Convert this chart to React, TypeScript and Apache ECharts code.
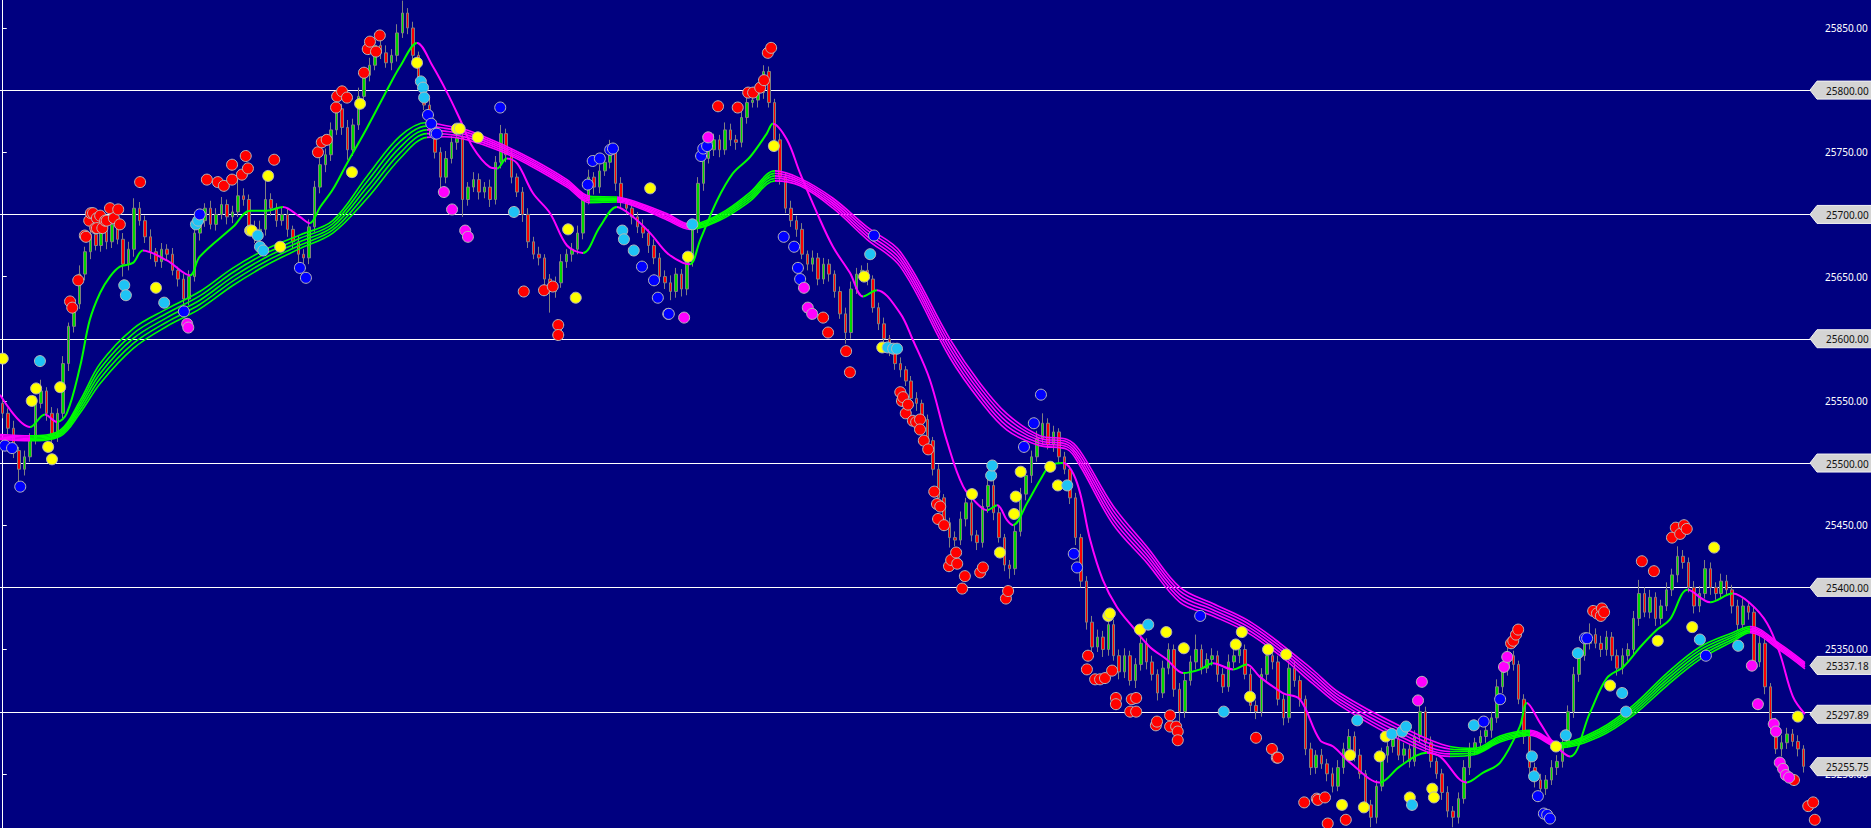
import React, { useEffect, useRef } from "react";
import * as echarts from "echarts";

const W = 1871;
const H = 828;
const Y_MIN = 25206.4;
const Y_MAX = 25872.5;
const N_SLOTS = 332;
const X_MIN = -0.5;
const X_MAX = N_SLOTS - 0.5;

const BG = "#000080";
const GREEN = "#00ff00";
const MAGENTA = "#ff00ff";

// ---- price bars (close, wick sizes) ----
const firstOpen = 25548;
const closes = [
  25540, 25528, 25510, 25495, 25505, 25520, 25548, 25558, 25540, 25522,
  25540, 25580, 25610, 25628, 25652, 25670, 25684, 25675, 25688, 25678,
  25692, 25680, 25660, 25672, 25705, 25695, 25682, 25670, 25662, 25672,
  25668, 25655, 25648, 25632, 25650, 25685, 25695, 25705, 25692, 25700,
  25708, 25698, 25702, 25715, 25712, 25690, 25682, 25688, 25712, 25705,
  25695, 25700, 25688, 25678, 25668, 25665, 25690, 25722, 25740, 25748,
  25768, 25785, 25770, 25752, 25772, 25795, 25812, 25820, 25836, 25830,
  25822, 25828, 25846, 25862, 25850, 25828, 25805, 25788, 25772, 25750,
  25730, 25745, 25758, 25762, 25712, 25722, 25728, 25718, 25722, 25712,
  25742, 25765, 25748, 25730, 25718, 25700, 25678, 25668, 25665, 25648,
  25638, 25645, 25662, 25668, 25672, 25685, 25712, 25730, 25722, 25735,
  25742, 25752, 25725, 25710, 25705, 25698, 25690, 25685, 25675, 25665,
  25650, 25645, 25638, 25652, 25640, 25662, 25690, 25725, 25745, 25752,
  25760, 25752, 25768, 25760, 25758, 25778, 25790, 25792, 25798, 25815,
  25790, 25760, 25730, 25705, 25695, 25688, 25668, 25660, 25665, 25648,
  25660, 25652, 25638, 25620, 25605, 25640, 25652, 25655, 25648, 25625,
  25612, 25600, 25590, 25580, 25575, 25566, 25552, 25548, 25535, 25518,
  25495, 25472, 25452, 25440, 25438, 25455, 25468, 25442, 25436, 25465,
  25482, 25460, 25440, 25418, 25415, 25445, 25475, 25490, 25505, 25520,
  25532, 25515, 25525, 25505, 25495, 25472, 25440, 25405, 25372, 25352,
  25360, 25350, 25370, 25345, 25332, 25345, 25325, 25338, 25355, 25340,
  25330, 25315, 25335, 25350, 25318, 25300, 25325, 25340, 25350, 25335,
  25342, 25345, 25330, 25320, 25340, 25345, 25350, 25330, 25305, 25300,
  25330, 25345, 25340, 25310, 25295, 25335, 25325, 25310, 25270, 25255,
  25265, 25258, 25250, 25240, 25255, 25270, 25280, 25265, 25250, 25225,
  25215, 25240, 25265, 25272, 25278, 25265, 25270, 25260, 25280, 25300,
  25275, 25260, 25250, 25235, 25220, 25215, 25230, 25255, 25270, 25275,
  25280, 25285, 25295, 25320, 25335, 25345, 25338, 25310, 25280, 25255,
  25245, 25238, 25245, 25255, 25260, 25275, 25300, 25330, 25345, 25355,
  25362, 25355, 25350, 25360, 25345, 25335, 25345, 25350, 25375, 25395,
  25380, 25392, 25375, 25385, 25398, 25410, 25425, 25420, 25400, 25385,
  25395, 25415, 25400, 25395, 25405, 25398, 25385, 25370, 25385, 25380,
  25340, 25355, 25320, 25290, 25270, 25275, 25282, 25276, 25270, 25256,
];
const wickUp = [
  5, 4, 6, 3, 5, 4, 6, 9, 3, 5, 4, 6, 3, 5, 7, 4, 5, 6, 4, 5,
  6, 4, 5, 6, 8, 5, 4, 6, 3, 5, 4, 5, 3, 4, 5, 6, 5, 4, 6, 5,
  6, 4, 5, 15, 6, 4, 5, 7, 18, 5, 4, 6, 5, 3, 5, 4, 6, 5, 7, 5,
  6, 5, 4, 6, 5, 7, 5, 6, 5, 4, 6, 5, 7, 10, 4, 5, 3, 4, 5, 3,
  4, 6, 5, 8, 5, 4, 6, 5, 4, 6, 5, 7, 4, 5, 3, 4, 5, 4, 6, 3,
  4, 5, 6, 4, 5, 6, 5, 6, 4, 5, 6, 8, 4, 5, 3, 5, 4, 6, 3, 5,
  4, 5, 6, 5, 4, 5, 6, 5, 6, 4, 5, 4, 6, 5, 4, 6, 5, 4, 5, 5,
  4, 3, 5, 4, 6, 4, 5, 3, 6, 4, 5, 4, 3, 4, 5, 6, 5, 4, 6, 3,
  4, 5, 3, 4, 5, 3, 4, 5, 3, 4, 3, 4, 3, 4, 5, 6, 4, 5, 4, 6,
  8, 4, 5, 3, 4, 6, 5, 6, 5, 6, 8, 4, 5, 3, 4, 3, 4, 3, 4, 5,
  6, 5, 7, 4, 5, 6, 4, 5, 6, 4, 5, 4, 6, 5, 4, 5, 6, 5, 12, 4,
  5, 6, 4, 5, 6, 5, 6, 4, 5, 4, 5, 6, 4, 5, 4, 6, 5, 4, 3, 5,
  4, 5, 4, 5, 6, 5, 6, 4, 5, 3, 4, 5, 6, 5, 6, 4, 5, 4, 5, 6,
  4, 5, 3, 4, 5, 4, 5, 6, 5, 4, 5, 6, 5, 6, 5, 7, 4, 3, 4, 5,
  4, 5, 4, 6, 5, 6, 5, 6, 5, 6, 9, 5, 6, 5, 4, 5, 6, 5, 6, 11,
  5, 6, 4, 5, 6, 5, 8, 5, 4, 5, 6, 7, 5, 4, 6, 5, 4, 5, 6, 4,
  5, 6, 4, 3, 5, 6, 5, 4, 5, 3,
];
const wickDown = [
  4, 5, 6, 10, 5, 4, 5, 4, 6, 5, 5, 4, 6, 5, 4, 5, 6, 4, 5, 6,
  5, 4, 10, 5, 6, 4, 5, 6, 4, 5, 5, 4, 6, 7, 5, 4, 6, 5, 4, 5,
  4, 6, 5, 4, 5, 6, 5, 4, 5, 6, 5, 4, 6, 5, 8, 6, 5, 4, 5, 6,
  5, 4, 6, 8, 5, 4, 6, 5, 4, 5, 4, 6, 5, 4, 5, 6, 5, 4, 6, 5,
  10, 5, 4, 6, 14, 5, 4, 6, 5, 6, 4, 5, 6, 5, 4, 6, 5, 4, 6, 5,
  17, 5, 4, 5, 6, 4, 5, 4, 6, 5, 4, 5, 6, 4, 5, 6, 5, 4, 6, 5,
  4, 5, 7, 5, 6, 5, 4, 5, 6, 4, 5, 6, 4, 5, 6, 4, 5, 4, 6, 5,
  4, 5, 6, 4, 5, 6, 4, 5, 6, 5, 4, 6, 5, 4, 9, 5, 4, 6, 5, 4,
  5, 6, 4, 5, 6, 4, 5, 6, 5, 4, 5, 4, 6, 8, 5, 4, 6, 5, 6, 4,
  5, 6, 4, 5, 8, 5, 4, 5, 6, 4, 5, 4, 6, 5, 4, 5, 6, 5, 6, 5,
  4, 6, 5, 4, 6, 5, 4, 6, 5, 6, 5, 6, 4, 5, 6, 10, 5, 4, 6, 5,
  4, 5, 6, 5, 4, 5, 6, 4, 5, 6, 4, 5, 6, 5, 6, 4, 5, 6, 5, 6,
  5, 4, 6, 5, 4, 5, 6, 5, 4, 6, 8, 5, 4, 6, 5, 4, 6, 5, 4, 5,
  6, 5, 4, 6, 5, 8, 5, 4, 6, 5, 4, 5, 6, 4, 5, 6, 5, 4, 6, 5,
  6, 9, 5, 4, 6, 5, 4, 5, 6, 4, 5, 4, 6, 5, 4, 6, 5, 4, 5, 6,
  4, 5, 6, 5, 4, 5, 6, 5, 4, 6, 5, 4, 6, 5, 4, 5, 6, 5, 4, 6,
  5, 4, 6, 5, 4, 6, 5, 4, 6, 5,
];

// ---- fast average line [bar position, price] ----
const fastLine: [number, number][] = [
  [-0.5, 25555], [5.0, 25529], [7.7, 25539], [9.9, 25533], [11.7, 25540], [14.1, 25577],
  [15.9, 25615], [17.8, 25637], [19.6, 25650], [21.4, 25658], [23.8, 25661], [25.6, 25671],
  [30.0, 25663], [34.2, 25651], [36.0, 25666], [42.1, 25690], [45.2, 25703], [48.3, 25703],
  [51.2, 25706], [54.3, 25698], [56.1, 25693], [58.0, 25706], [60.3, 25720], [62.9, 25741],
  [66.6, 25770], [70.8, 25805], [72.6, 25819], [75.7, 25838], [78.6, 25819], [81.2, 25798],
  [83.5, 25777], [85.9, 25754], [89.0, 25738], [90.3, 25737], [92.1, 25745], [94.0, 25741],
  [96.9, 25717], [100.0, 25701], [103.1, 25675], [106.0, 25669], [109.1, 25690], [112.2, 25706],
  [115.2, 25698], [118.3, 25685], [121.4, 25669], [124.3, 25661], [125.6, 25660], [127.4, 25679],
  [130.5, 25711], [133.4, 25733], [136.5, 25746], [139.6, 25765], [140.7, 25773], [143.3, 25760],
  [145.7, 25733], [148.8, 25701], [151.7, 25674], [154.8, 25653], [157.2, 25634], [159.7, 25639],
  [163.9, 25621], [166.3, 25599], [169.4, 25567], [172.5, 25518], [175.5, 25481], [178.6, 25465],
  [179.8, 25462], [181.7, 25466], [183.5, 25454], [184.6, 25450], [187.2, 25468], [189.5, 25486],
  [191.4, 25498], [193.7, 25500], [196.3, 25484], [198.7, 25438], [201.0, 25406], [203.6, 25384],
  [206.5, 25368], [209.6, 25352], [212.7, 25342], [215.7, 25331], [218.8, 25334], [221.1, 25339],
  [224.8, 25334], [227.3, 25338], [229.7, 25328], [233.9, 25315], [237.0, 25310], [240.7, 25277],
  [243.1, 25272], [246.2, 25259], [251.6, 25243], [255.3, 25256], [260.2, 25267], [262.6, 25264],
  [267.5, 25243], [270.5, 25251], [273.6, 25259], [277.2, 25288], [278.5, 25307], [280.9, 25291],
  [283.3, 25275], [286.4, 25264], [290.0, 25299], [293.1, 25327], [296.1, 25336], [299.2, 25352],
  [302.3, 25366], [304.6, 25374], [307.9, 25398], [312.0, 25388], [316.1, 25395], [319.3, 25387],
  [322.4, 25371], [324.7, 25347], [327.1, 25312], [329.3, 25298],
];

// ---- slow ribbon: centre [bar position, price] and total spread in points ----
const ribbonMid: [number, number][] = [
  [-0.5, 25521], [5.0, 25520], [10.5, 25524], [14.1, 25545], [17.8, 25572], [23.8, 25600],
  [30.0, 25617], [36.0, 25631], [42.1, 25650], [48.3, 25666], [54.3, 25678], [60.3, 25690],
  [66.6, 25722], [72.6, 25754], [77.5, 25768], [80.8, 25767], [84.8, 25764], [90.9, 25754],
  [96.9, 25741], [103.1, 25725], [107.3, 25712], [112.2, 25712], [116.4, 25707], [121.4, 25698],
  [125.6, 25690], [131.1, 25698], [136.5, 25714], [141.1, 25731], [145.7, 25726], [151.7, 25709],
  [157.9, 25685], [164.0, 25664], [173.1, 25592], [178.6, 25557], [183.5, 25533], [189.5, 25518],
  [194.5, 25515], [196.8, 25504], [202.9, 25458], [209.1, 25426], [215.1, 25394], [221.1, 25382],
  [227.3, 25369], [233.4, 25350], [239.4, 25328], [244.3, 25310], [255.3, 25283], [264.4, 25268],
  [269.0, 25268], [273.6, 25278], [279.1, 25283], [284.5, 25273], [291.8, 25283], [297.9, 25301],
  [304.1, 25326], [310.1, 25347], [316.1, 25360], [319.3, 25366], [324.7, 25352], [329.3, 25337],
];
const ribbonSpread = [
  4, 4, 5, 10, 16, 16, 14, 14, 14, 13, 11, 10,
  18, 18, 12, 9, 8, 6, 6, 6, 5, 4, 4, 5,
  4, 5, 7, 8, 6, 8, 10, 12, 15, 14, 13, 8,
  8, 12, 15, 13, 12, 10, 10, 10, 11, 10, 11, 8,
  5, 5, 4, 4, 6, 8, 10, 10, 7, 5, 5, 5,
];
const ribbonSteps = [-0.5, -0.25, 0, 0.25, 0.5];

// ---- signal dots [bar position, price] ----
const redDots: [number, number][] = [
  [12.3, 25630], [12.7, 25625], [13.8, 25647], [15.0, 25683], [15.2, 25682],
  [15.8, 25695], [16.1, 25701], [16.5, 25701], [16.9, 25689], [17.2, 25697], [17.2, 25689],
  [17.8, 25699], [18.2, 25689], [18.7, 25695], [19.0, 25695], [19.6, 25705], [20.3, 25697],
  [21.1, 25704], [21.4, 25692], [25.1, 25726],
  [37.3, 25728], [39.3, 25726], [40.4, 25723], [41.9, 25740], [41.9, 25728], [43.7, 25732],
  [44.4, 25747], [44.8, 25737], [49.6, 25744],
  [57.6, 25750], [58.3, 25758], [59.2, 25760], [60.9, 25786], [61.1, 25795], [62.0, 25799], [62.9, 25794],
  [66.0, 25814], [66.7, 25833], [67.1, 25839], [68.2, 25831], [68.9, 25844],
  [95.2, 25638], [98.9, 25639], [100.5, 25642], [101.5, 25611], [101.5, 25603],
  [130.7, 25787], [134.3, 25786],
  [136.2, 25798], [137.1, 25798], [138.4, 25802], [139.1, 25808], [139.8, 25830], [140.4, 25834],
  [149.9, 25617], [150.8, 25605], [154.1, 25590], [154.8, 25573],
  [164.0, 25557], [164.3, 25550], [164.5, 25553], [165.0, 25540], [165.4, 25547], [166.3, 25534],
  [166.9, 25533], [167.6, 25535], [167.6, 25527], [168.3, 25518], [169.1, 25511],
  [170.2, 25477], [170.7, 25467], [170.9, 25455], [171.3, 25465], [172.0, 25450],
  [172.9, 25417], [173.3, 25422], [174.2, 25428], [174.4, 25419], [175.3, 25399], [175.8, 25409],
  [178.6, 25412], [179.1, 25416], [183.3, 25391], [183.7, 25397],
  [198.1, 25334], [198.3, 25345], [199.6, 25326], [200.5, 25326], [201.4, 25327], [202.7, 25333],
  [203.4, 25311], [203.4, 25306], [206.0, 25300], [206.3, 25310], [207.1, 25311], [207.1, 25300],
  [210.7, 25289], [210.9, 25292], [213.3, 25297], [213.3, 25288], [214.4, 25288], [214.7, 25284], [214.7, 25277],
  [229.0, 25279], [231.9, 25270], [232.8, 25263], [233.0, 25263],
  [237.8, 25227], [240.1, 25230], [240.3, 25229], [241.6, 25231], [242.1, 25210], [245.4, 25213],
  [275.6, 25355], [276.0, 25357], [276.5, 25362], [276.9, 25366],
  [290.6, 25381], [291.3, 25379], [292.0, 25377], [292.2, 25383], [292.6, 25380],
  [299.5, 25421], [301.7, 25413],
  [305.0, 25440], [305.7, 25448], [306.5, 25443], [307.2, 25450], [307.7, 25447],
  [327.3, 25245], [329.9, 25224], [330.8, 25227], [331.1, 25213],
];
const yellowDots: [number, number][] = [
  [0, 25584], [5.3, 25550], [6.1, 25560], [8.3, 25513], [9.0, 25503], [10.5, 25561],
  [28.0, 25641], [45.2, 25687], [45.5, 25687], [48.5, 25731], [50.7, 25674], [63.8, 25734],
  [65.3, 25789], [75.7, 25822], [83.0, 25769], [83.5, 25769], [86.8, 25762], [103.3, 25688],
  [104.7, 25633], [118.3, 25721], [125.2, 25666], [140.9, 25755], [157.4, 25650], [160.7, 25593],
  [177.1, 25475], [182.2, 25428], [184.8, 25459], [185.1, 25473], [186.0, 25493], [191.4, 25497],
  [192.8, 25482], [202.0, 25377], [202.3, 25379], [207.8, 25366], [212.6, 25364], [215.8, 25351],
  [225.3, 25354], [226.4, 25364], [227.9, 25312], [231.2, 25350], [234.5, 25346],
  [244.7, 25225], [246.2, 25265], [248.7, 25223], [251.6, 25264], [252.7, 25280], [257.1, 25231],
  [261.2, 25238], [261.5, 25231], [283.8, 25272], [293.7, 25321], [302.4, 25357], [308.7, 25368],
  [312.7, 25432], [328.0, 25296],
];
const cyanDots: [number, number][] = [
  [6.8, 25582], [22.2, 25643], [22.5, 25635], [29.5, 25629], [35.3, 25692], [35.7, 25695],
  [46.6, 25683], [47.0, 25674], [47.6, 25671], [76.4, 25807], [76.8, 25802], [77.0, 25794],
  [93.4, 25702], [113.2, 25687], [113.5, 25680], [115.3, 25671], [126.0, 25692], [158.5, 25668],
  [161.7, 25593], [162.7, 25592], [163.4, 25592], [180.6, 25490], [180.8, 25498], [194.5, 25482],
  [209.3, 25370], [223.1, 25300], [247.5, 25293], [253.8, 25282], [255.7, 25284], [256.4, 25288],
  [257.5, 25225], [268.8, 25289], [279.4, 25264], [279.8, 25248], [285.6, 25281], [287.8, 25347],
  [295.9, 25315], [296.6, 25300], [310.1, 25358], [317.1, 25353],
];
const blueDots: [number, number][] = [
  [0.4, 25514], [1.7, 25512], [3.2, 25481], [33.1, 25622], [36.0, 25700], [54.3, 25657], [55.4, 25649],
  [77.7, 25780], [78.3, 25773], [79.0, 25765], [79.3, 25765], [90.9, 25786],
  [106.9, 25724], [107.8, 25743], [109.1, 25745], [111.0, 25752], [111.5, 25753],
  [116.8, 25658], [119.0, 25647], [119.7, 25633], [121.6, 25620], [121.7, 25620],
  [127.6, 25747], [128.0, 25753], [128.7, 25755],
  [142.7, 25682], [144.6, 25674], [145.3, 25657], [145.7, 25648], [159.2, 25683],
  [186.6, 25513], [188.4, 25532], [189.7, 25555], [195.7, 25427], [196.3, 25416], [218.8, 25377],
  [270.6, 25292], [273.6, 25310], [280.5, 25232], [281.6, 25218], [282.2, 25217], [282.7, 25214],
  [289.1, 25359], [289.5, 25359], [311.2, 25345],
];
const magentaDots: [number, number][] = [
  [33.7, 25612], [33.9, 25609], [80.6, 25718], [82.1, 25704], [84.5, 25687], [85.0, 25682],
  [124.5, 25617], [128.9, 25762], [146.4, 25641], [147.1, 25625], [147.9, 25620],
  [258.6, 25309], [259.3, 25324], [274.3, 25336], [274.9, 25344],
  [319.6, 25337], [320.7, 25306], [323.6, 25290], [324.0, 25284], [324.7, 25259], [325.3, 25254],
  [325.8, 25249], [326.4, 25247],
];

// ---- axis ----
const axisLabelValues = [25250, 25350, 25450, 25550, 25650, 25750, 25850];
const gridValues = [25300, 25400, 25500, 25600, 25700, 25800];
const badgeValues = [25800, 25700, 25600, 25500, 25400, 25337.18, 25297.89, 25255.75];

const FONT = "Noto Sans";

function slopePieces(pts: [number, number][]) {
  const pieces: any[] = [];
  for (let k = 0; k < pts.length - 1; k++) {
    const color = pts[k + 1][1] >= pts[k][1] ? GREEN : MAGENTA;
    const last = pieces[pieces.length - 1];
    if (last && last.color === color) last.lt = pts[k + 1][0];
    else pieces.push({ gte: pts[k][0], lt: pts[k + 1][0], color });
  }
  pieces[0].gte = X_MIN - 1;
  pieces[pieces.length - 1].lt = X_MAX + 1;
  return pieces;
}

function buildOption() {
  const candleData = closes.map((c, i) => {
    const o = i === 0 ? firstOpen : closes[i - 1];
    return [o, c, Math.min(o, c) - wickDown[i], Math.max(o, c) + wickUp[i]];
  });
  const slots = Array.from({ length: N_SLOTS }, (_, i) => String(i));

  const ribbonSeries = ribbonSteps.map((s) => ({
    type: "line",
    xAxisIndex: 1,
    yAxisIndex: 0,
    data: ribbonMid.map((p, k) => [p[0], p[1] + s * ribbonSpread[k]]),
    showSymbol: false,
    smooth: 0.35,
    silent: true,
    z: 3,
    lineStyle: { width: 1.6 },
  }));

  const dot = (data: [number, number][], color: string) => ({
    type: "scatter",
    xAxisIndex: 1,
    yAxisIndex: 0,
    data,
    symbol: "circle",
    symbolSize: 11,
    silent: true,
    z: 6,
    itemStyle: { color, borderColor: "#b8b8b8", borderWidth: 1, opacity: 1 },
  });

  const series: any[] = [
    {
      type: "custom",
      xAxisIndex: 1,
      yAxisIndex: 0,
      data: gridValues.map((v) => [X_MAX, v]),
      encode: { x: 0, y: 1 },
      silent: true,
      z: 1,
      renderItem: (_p: any, api: any) => {
        const v = api.value(1);
        const a = api.coord([X_MIN, v]);
        const b = api.coord([X_MAX, v]);
        const y = Math.round(a[1]) + 0.5;
        return {
          type: "line",
          shape: { x1: a[0], y1: y, x2: b[0], y2: y },
          style: { stroke: "#ffffff", lineWidth: 1 },
        };
      },
    },
    {
      type: "candlestick",
      xAxisIndex: 0,
      yAxisIndex: 0,
      data: candleData,
      barWidth: 3,
      silent: true,
      z: 2,
      itemStyle: {
        color: "#00d800",
        color0: "#ff0000",
        borderColor: "#808080",
        borderColor0: "#808080",
        borderWidth: 1,
      },
    },
    ...ribbonSeries,
    {
      type: "line",
      xAxisIndex: 1,
      yAxisIndex: 0,
      data: fastLine,
      showSymbol: false,
      smooth: 0.35,
      silent: true,
      z: 4,
      lineStyle: { width: 2 },
    },
    dot(redDots, "#ff0000"),
    dot(yellowDots, "#ffff00"),
    dot(cyanDots, "#1ec3f5"),
    dot(blueDots, "#0000ff"),
    dot(magentaDots, "#ff00ff"),
    {
      type: "custom",
      xAxisIndex: 1,
      yAxisIndex: 0,
      data: badgeValues.map((v) => [X_MAX, v]),
      encode: { x: 0, y: 1 },
      silent: true,
      clip: false,
      z: 20,
      renderItem: (_p: any, api: any) => {
        const v = api.value(1);
        const c = api.coord([X_MAX, v]);
        const x = Math.round(c[0]);
        const y = c[1];
        return {
          type: "group",
          children: [
            {
              type: "polygon",
              shape: {
                points: [
                  [x - 7, y],
                  [x, y - 9],
                  [x + 60, y - 9],
                  [x + 60, y + 9],
                  [x, y + 9],
                ],
              },
              style: { fill: "#d4d4d4", stroke: "#f2f2f2", lineWidth: 1 },
            },
            {
              type: "text",
              style: {
                text: v.toFixed(2),
                x: x + 9,
                y: y + 0.5,
                align: "left",
                verticalAlign: "middle",
                fill: "#101010",
                fontSize: 10,
                fontFamily: FONT,
              },
            },
          ],
        };
      },
    },
  ];

  const ribbonIdx = ribbonSeries.map((_, k) => 2 + k);
  const fastIdx = 2 + ribbonSeries.length;

  return {
    animation: false,
    backgroundColor: BG,
    grid: { left: 0, right: 54, top: 0, bottom: 0 },
    xAxis: [
      { type: "category", data: slots, boundaryGap: true, show: false },
      { type: "value", min: X_MIN, max: X_MAX, show: false },
    ],
    yAxis: [
      {
        type: "value",
        position: "right",
        min: Y_MIN,
        max: Y_MAX,
        axisLine: { show: true, lineStyle: { color: "#ffffff", width: 1 } },
        axisTick: {
          show: true,
          length: 4,
          lineStyle: { color: "#ffffff" },
          customValues: axisLabelValues,
        },
        axisLabel: {
          show: true,
          color: "#ffffff",
          fontSize: 10,
          fontFamily: FONT,
          margin: 8,
          customValues: axisLabelValues,
          formatter: (v: number) => Number(v).toFixed(2),
        },
        splitLine: { show: false },
      },
    ],
    visualMap: [
      {
        type: "piecewise",
        show: false,
        dimension: 0,
        seriesIndex: ribbonIdx,
        pieces: slopePieces(ribbonMid),
        outOfRange: { color: MAGENTA },
      },
      {
        type: "piecewise",
        show: false,
        dimension: 0,
        seriesIndex: fastIdx,
        pieces: slopePieces(fastLine),
        outOfRange: { color: MAGENTA },
      },
    ],
    series,
  };
}

export default function App() {
  const ref = useRef<HTMLDivElement>(null);
  useEffect(() => {
    if (!ref.current) return;
    const chart = echarts.init(ref.current, null, { renderer: "svg" });
    chart.setOption(buildOption() as any);
    return () => chart.dispose();
  }, []);
  return (
    <div
      ref={ref}
      style={{ position: "fixed", left: 0, top: 0, width: W, height: H, background: BG }}
    />
  );
}
